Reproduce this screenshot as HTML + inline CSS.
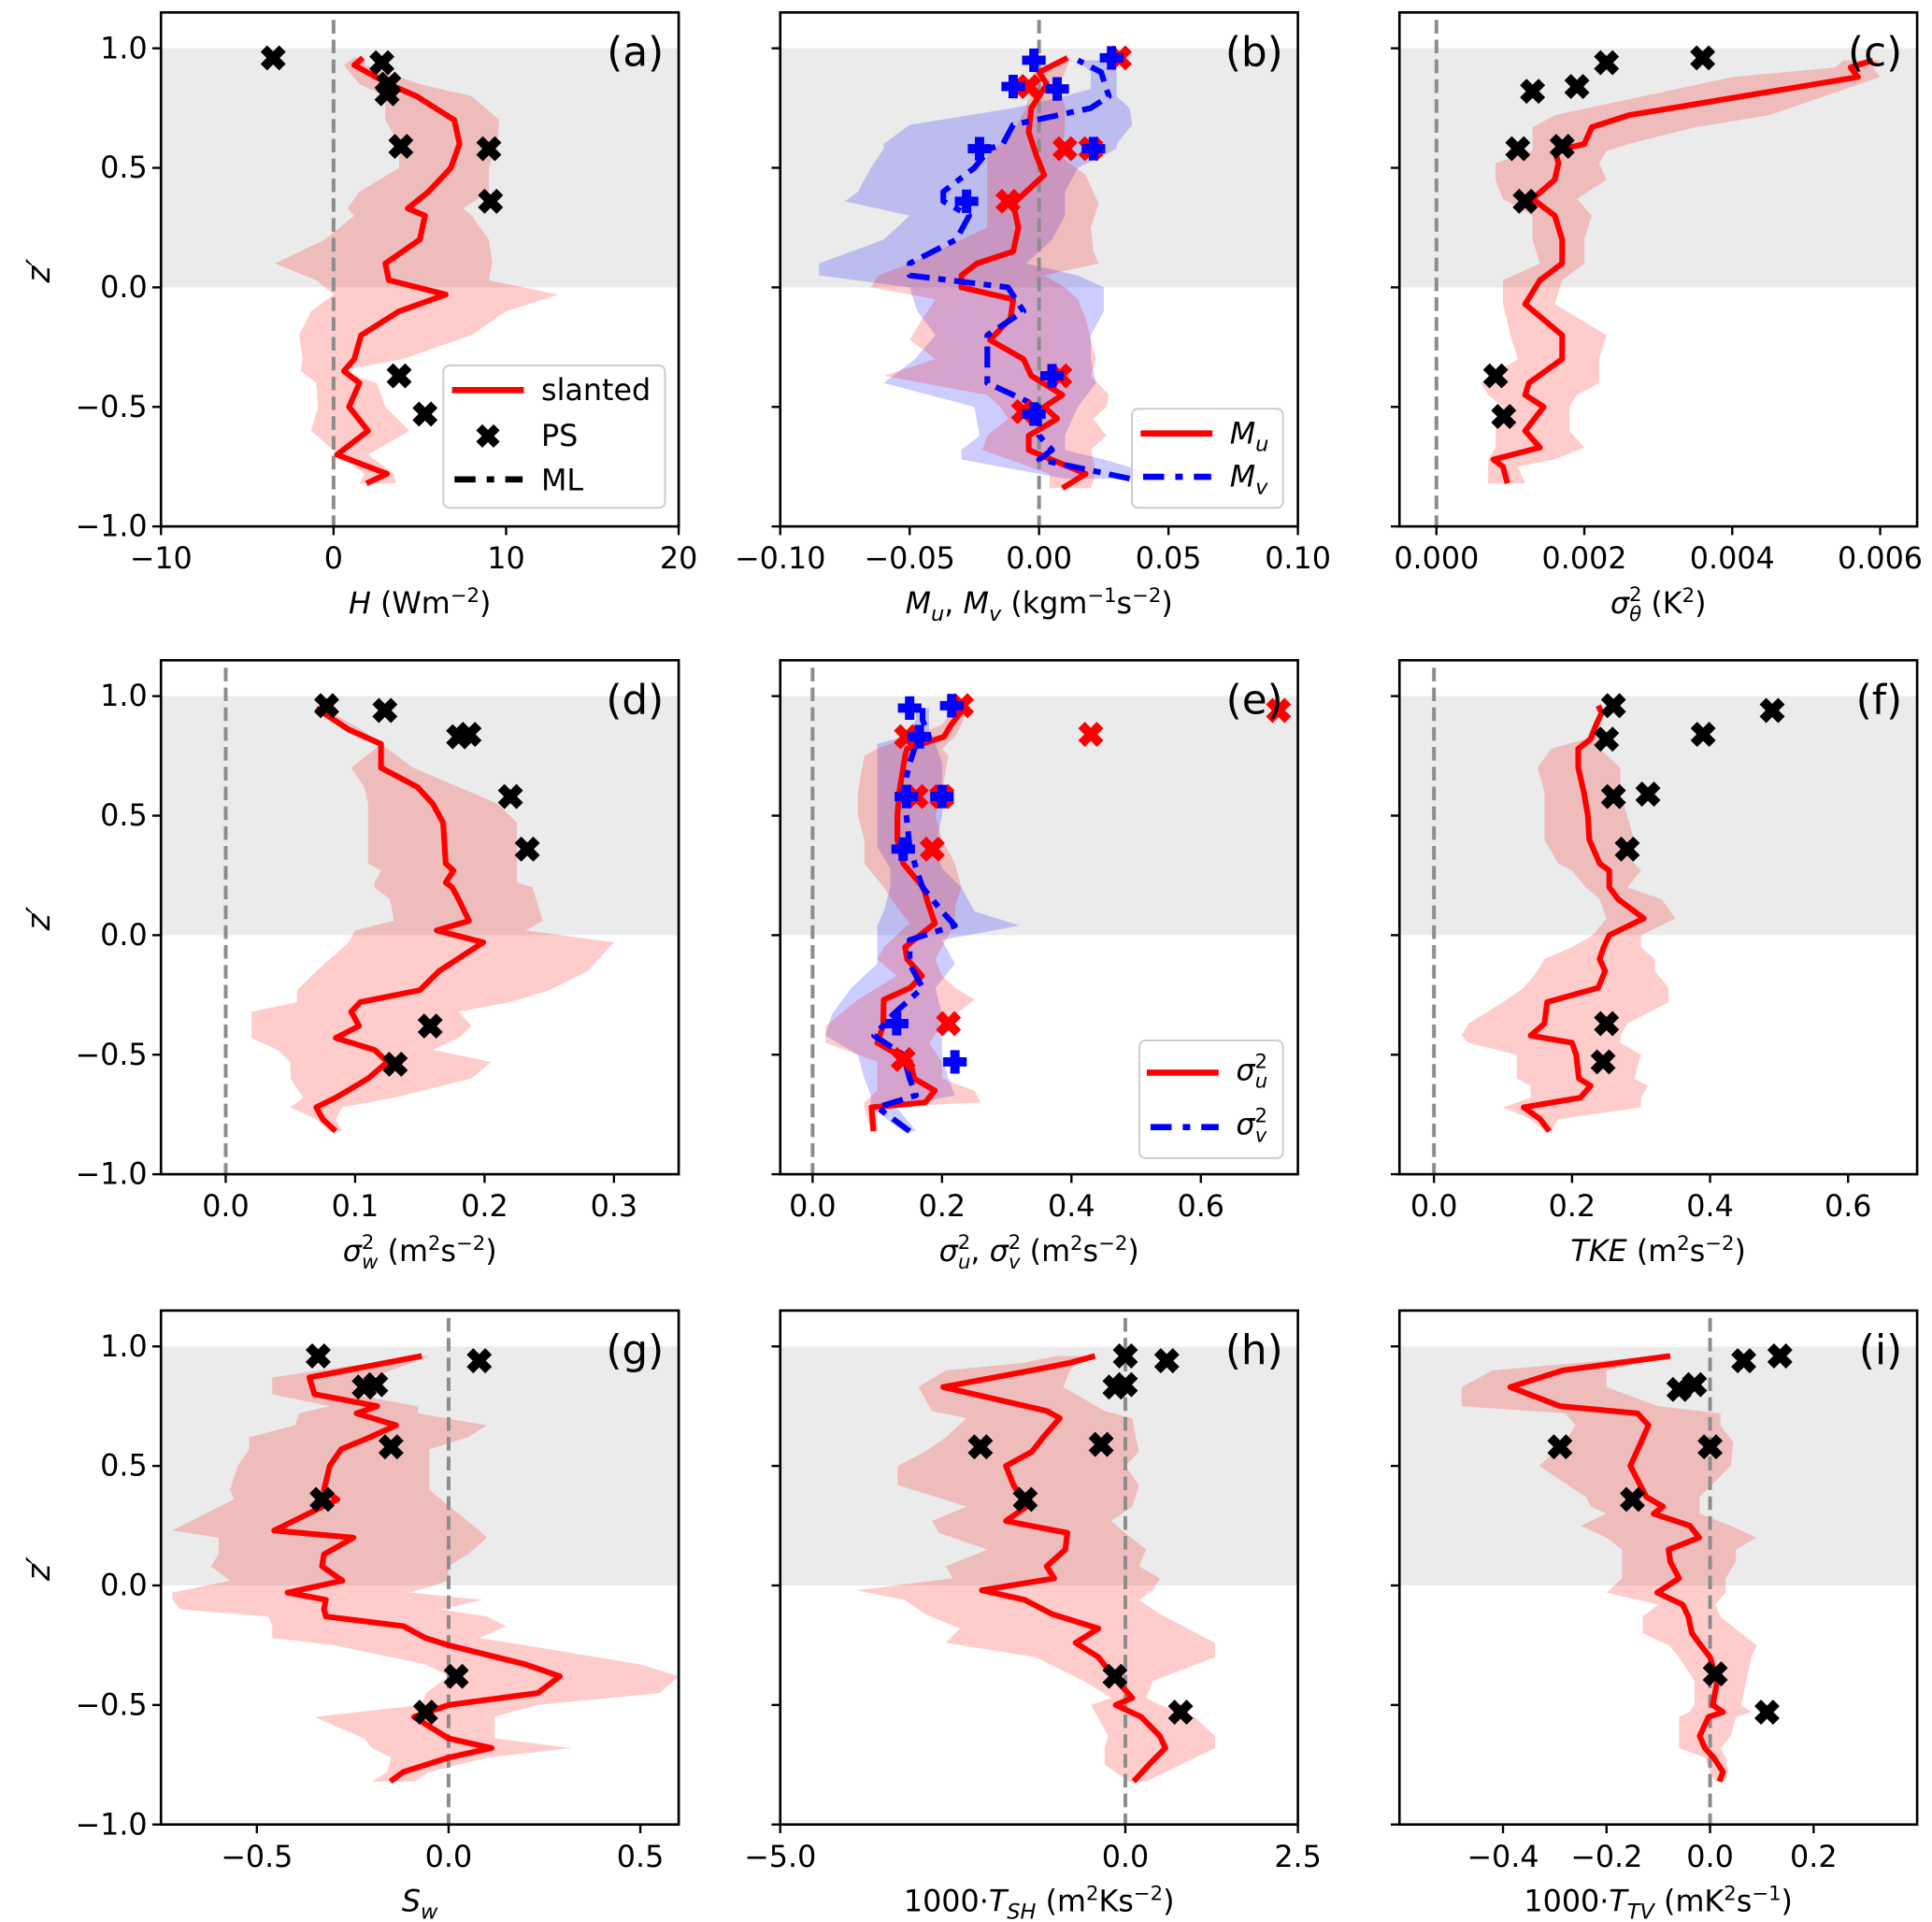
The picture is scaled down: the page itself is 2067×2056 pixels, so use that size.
<!DOCTYPE html>
<html><head><meta charset="utf-8">
<style>
html,body{margin:0;padding:0;background:#fff;}
svg{display:block;font-family:"DejaVu Sans","Liberation Sans",sans-serif;}
</style></head>
<body>
<svg id="fig" width="2067" height="2056" viewBox="0 0 1560 1551.7" preserveAspectRatio="none" xmlns="http://www.w3.org/2000/svg"></svg>
<script>
// ---------- data ----------
const zA=[-0.82,-0.78,-0.7,-0.6,-0.5,-0.4,-0.35,-0.3,-0.2,-0.1,-0.03,0.03,0.1,0.2,0.3,0.33,0.4,0.5,0.6,0.7,0.8,0.85,0.93,0.96];
const mA=[1.9,3.1,0.2,2.0,0.9,1.5,0.6,1.2,1.6,3.8,6.5,3.2,3.0,5.0,5.3,4.3,5.5,6.8,7.3,7.0,4.8,3.2,1.2,1.7];
const loA=[1.5,1.8,0.3,-1.3,-0.9,-1.0,-1.9,-1.8,-2.0,-1.3,0.0,-1.0,-3.4,-0.5,1.2,0.8,1.5,3.8,3.8,3.0,3.0,1.5,0.6,1.2];
const hiA=[3.6,3.5,2.0,4.4,3.0,2.5,0.3,4.0,8.0,10.0,13.0,9.0,9.2,9.0,8.0,7.5,9.0,9.0,9.5,9.6,8.0,5.0,1.8,1.8];
const psAx=[-3.5,2.8,3.2,3.1,3.9,9.0,9.1,3.8,5.3];
const psAz=[0.96,0.94,0.85,0.81,0.59,0.58,0.36,-0.37,-0.53];

const zBu=[-0.84,-0.78,-0.68,-0.62,-0.55,-0.5,-0.45,-0.37,-0.3,-0.22,-0.13,-0.05,0.0,0.05,0.1,0.15,0.25,0.35,0.47,0.55,0.65,0.75,0.85,0.9,0.96];
const mBu=[0.009,0.018,-0.004,-0.004,0.007,0.002,0.009,-0.003,-0.006,-0.019,-0.011,-0.01,-0.03,-0.03,-0.024,-0.01,-0.008,-0.01,0.002,-0.001,-0.004,-0.003,0.003,0.0,0.011];
const loBu=[0.004,0.004,-0.022,-0.02,-0.012,-0.015,-0.02,-0.06,-0.04,-0.05,-0.045,-0.04,-0.065,-0.062,-0.05,-0.04,-0.02,-0.02,-0.02,-0.02,-0.01,-0.005,-0.003,-0.002,0.01];
const hiBu=[0.02,0.022,0.02,0.026,0.021,0.026,0.027,0.02,0.022,0.02,0.018,0.015,0.01,0.002,0.023,0.021,0.02,0.023,0.018,0.008,0.01,0.01,0.008,0.01,0.012];
const zBv=[-0.8,-0.72,-0.68,-0.62,-0.5,-0.4,-0.3,-0.2,-0.1,0.0,0.05,0.1,0.2,0.3,0.36,0.4,0.5,0.58,0.6,0.68,0.75,0.8,0.83,0.9,0.95];
const mBv=[0.035,0.0,0.005,0.0,0.0,-0.02,-0.02,-0.02,-0.006,-0.012,-0.05,-0.05,-0.032,-0.027,-0.037,-0.037,-0.025,-0.019,-0.014,-0.01,0.02,0.027,0.026,0.024,0.015];
const loBv=[0.01,-0.03,-0.03,-0.023,-0.025,-0.06,-0.048,-0.04,-0.047,-0.05,-0.085,-0.085,-0.06,-0.05,-0.075,-0.07,-0.065,-0.06,-0.06,-0.05,-0.01,0.01,0.02,0.02,0.015];
const hiBv=[0.05,0.025,0.01,0.01,0.015,0.022,0.02,0.02,0.025,0.025,0.015,-0.005,0.005,0.01,0.01,0.01,0.015,0.03,0.03,0.036,0.035,0.03,0.03,0.03,0.028];
const psBux=[0.031,-0.004,0.01,-0.012,0.008,-0.006,0.02];
const psBuz=[0.96,0.84,0.58,0.36,-0.37,-0.52,0.58];
const psBvx=[-0.002,0.028,-0.01,0.007,0.021,-0.023,-0.028,0.005,-0.002];
const psBvz=[0.95,0.96,0.84,0.83,0.58,0.58,0.36,-0.37,-0.53];

const zC=[-0.82,-0.75,-0.72,-0.67,-0.6,-0.5,-0.45,-0.4,-0.3,-0.2,-0.07,0.03,0.1,0.2,0.3,0.37,0.45,0.52,0.57,0.6,0.67,0.72,0.88,0.92,0.95];
const mC=[0.00096,0.0009,0.00077,0.0014,0.0012,0.00145,0.0012,0.00125,0.0017,0.0017,0.0012,0.0014,0.0017,0.0017,0.0016,0.0013,0.0016,0.00165,0.0016,0.002,0.0021,0.0026,0.0057,0.0056,0.0059];
const loC=[0.0007,0.0007,0.0007,0.0008,0.0008,0.0009,0.0007,0.0006,0.0011,0.001,0.0009,0.0009,0.0014,0.0013,0.0013,0.0009,0.0008,0.0008,0.0013,0.0013,0.0013,0.0016,0.004,0.0054,0.0055];
const hiC=[0.0012,0.0011,0.0016,0.002,0.0018,0.0018,0.0019,0.0022,0.0022,0.0023,0.0016,0.0017,0.002,0.002,0.0021,0.0019,0.0023,0.0022,0.0023,0.0026,0.0035,0.0045,0.006,0.0059,0.006];
const psCx=[0.0036,0.0023,0.0019,0.0013,0.0017,0.0011,0.0012,0.0008,0.00091];
const psCz=[0.96,0.94,0.84,0.82,0.59,0.58,0.36,-0.37,-0.54];

const zD=[-0.82,-0.77,-0.72,-0.68,-0.6,-0.53,-0.48,-0.43,-0.38,-0.32,-0.28,-0.23,-0.15,-0.03,0.02,0.06,0.15,0.2,0.22,0.27,0.3,0.47,0.55,0.62,0.7,0.8,0.86,0.95];
const mD=[0.085,0.075,0.07,0.085,0.11,0.125,0.115,0.085,0.103,0.097,0.104,0.15,0.165,0.199,0.163,0.188,0.18,0.175,0.17,0.176,0.17,0.168,0.16,0.148,0.12,0.12,0.095,0.07];
const loD=[0.08,0.07,0.05,0.06,0.05,0.05,0.04,0.02,0.02,0.02,0.055,0.055,0.07,0.095,0.1,0.13,0.127,0.115,0.115,0.12,0.11,0.11,0.11,0.107,0.097,0.12,0.095,0.07];
const hiD=[0.09,0.085,0.09,0.13,0.19,0.205,0.16,0.18,0.19,0.18,0.22,0.25,0.28,0.3,0.232,0.245,0.24,0.237,0.225,0.225,0.225,0.225,0.21,0.18,0.145,0.12,0.105,0.075];
const psDx=[0.078,0.123,0.18,0.188,0.22,0.233,0.158,0.131];
const psDz=[0.96,0.94,0.83,0.84,0.58,0.36,-0.38,-0.54];

const zEu=[-0.82,-0.72,-0.7,-0.65,-0.6,-0.53,-0.45,-0.38,-0.27,-0.22,-0.17,-0.1,-0.05,0.05,0.12,0.2,0.3,0.4,0.5,0.6,0.75,0.78,0.83,0.88,0.95];
const mEu=[0.094,0.091,0.174,0.189,0.157,0.151,0.1,0.109,0.11,0.151,0.169,0.146,0.143,0.189,0.18,0.171,0.14,0.131,0.131,0.134,0.143,0.146,0.203,0.214,0.234];
const loEu=[0.09,0.08,0.08,0.1,0.1,0.1,0.02,0.02,0.07,0.1,0.13,0.1,0.11,0.15,0.13,0.11,0.08,0.08,0.07,0.07,0.08,0.1,0.15,0.2,0.22];
const hiEu=[0.1,0.1,0.26,0.25,0.2,0.2,0.18,0.2,0.25,0.22,0.2,0.19,0.2,0.22,0.22,0.23,0.22,0.2,0.19,0.2,0.21,0.2,0.22,0.23,0.24];
const zEv=[-0.82,-0.72,-0.67,-0.6,-0.5,-0.42,-0.33,-0.22,-0.12,-0.02,0.04,0.1,0.2,0.28,0.37,0.5,0.6,0.72,0.8,0.83,0.9,0.95];
const mEv=[0.15,0.1,0.16,0.15,0.14,0.095,0.125,0.17,0.15,0.15,0.22,0.2,0.17,0.16,0.15,0.145,0.14,0.15,0.16,0.18,0.17,0.17];
const loEv=[0.14,0.09,0.09,0.08,0.07,0.02,0.03,0.06,0.1,0.1,0.1,0.11,0.12,0.12,0.1,0.1,0.1,0.1,0.1,0.14,0.16,0.16];
const hiEv=[0.16,0.13,0.22,0.21,0.2,0.2,0.2,0.19,0.22,0.2,0.32,0.25,0.23,0.2,0.19,0.2,0.2,0.2,0.19,0.18,0.18,0.18];
const psEux=[0.72,0.43,0.23,0.16,0.185,0.21,0.14,0.2,0.145];
const psEuz=[0.94,0.84,0.96,0.58,0.36,-0.37,-0.52,0.58,0.83];
const psEvx=[0.15,0.215,0.165,0.145,0.2,0.14,0.13,0.22];
const psEvz=[0.95,0.96,0.83,0.58,0.58,0.36,-0.37,-0.53];

const zF=[-0.82,-0.77,-0.72,-0.68,-0.63,-0.6,-0.5,-0.45,-0.42,-0.37,-0.28,-0.22,-0.15,-0.1,-0.05,0.0,0.07,0.15,0.2,0.27,0.3,0.4,0.5,0.6,0.7,0.78,0.82,0.88,0.93,0.96];
const mF=[0.167,0.154,0.13,0.212,0.227,0.21,0.206,0.2,0.14,0.16,0.164,0.238,0.248,0.24,0.246,0.254,0.304,0.267,0.254,0.254,0.24,0.225,0.223,0.217,0.209,0.209,0.227,0.235,0.243,0.238];
const loF=[0.16,0.14,0.1,0.14,0.14,0.12,0.12,0.05,0.04,0.05,0.1,0.13,0.15,0.16,0.2,0.23,0.25,0.24,0.22,0.2,0.18,0.16,0.16,0.16,0.15,0.17,0.22,0.23,0.24,0.24];
const hiF=[0.17,0.18,0.3,0.3,0.31,0.29,0.3,0.27,0.27,0.28,0.34,0.34,0.32,0.32,0.3,0.3,0.35,0.33,0.28,0.3,0.29,0.29,0.28,0.27,0.27,0.24,0.24,0.24,0.245,0.24];
const psFx=[0.26,0.49,0.39,0.25,0.26,0.31,0.28,0.25,0.245];
const psFz=[0.96,0.94,0.84,0.82,0.58,0.59,0.36,-0.37,-0.53];

const zG=[-0.82,-0.78,-0.72,-0.68,-0.64,-0.55,-0.5,-0.45,-0.38,-0.33,-0.25,-0.22,-0.17,-0.13,-0.1,-0.06,-0.03,0.02,0.08,0.13,0.2,0.23,0.36,0.4,0.5,0.57,0.62,0.67,0.72,0.75,0.8,0.87,0.96];
const mG=[-0.152,-0.118,0.0,0.112,0.0,-0.09,0.0,0.233,0.29,0.2,0.0,-0.06,-0.118,-0.32,-0.325,-0.32,-0.42,-0.277,-0.33,-0.325,-0.248,-0.455,-0.29,-0.325,-0.31,-0.28,-0.205,-0.137,-0.24,-0.186,-0.35,-0.363,-0.07];
const loG=[-0.2,-0.16,-0.15,-0.2,-0.22,-0.35,-0.07,-0.06,0.0,-0.06,-0.3,-0.46,-0.46,-0.47,-0.7,-0.72,-0.72,-0.57,-0.62,-0.6,-0.6,-0.72,-0.56,-0.57,-0.55,-0.52,-0.52,-0.4,-0.39,-0.31,-0.46,-0.46,-0.08];
const hiG=[-0.09,-0.05,0.1,0.32,0.12,0.12,0.23,0.55,0.6,0.5,0.2,0.08,0.15,0.1,-0.02,0.09,-0.1,0.0,0.0,0.05,0.1,0.08,-0.02,-0.05,-0.05,-0.05,0.05,0.1,-0.08,-0.08,-0.25,-0.2,-0.05];
const psGx=[-0.34,0.08,-0.22,-0.19,-0.15,-0.33,0.02,-0.06];
const psGz=[0.96,0.94,0.83,0.84,0.58,0.36,-0.38,-0.53];

const zH=[-0.82,-0.75,-0.68,-0.63,-0.55,-0.5,-0.47,-0.4,-0.3,-0.24,-0.18,-0.12,-0.06,-0.02,0.03,0.08,0.15,0.22,0.27,0.33,0.42,0.5,0.56,0.62,0.7,0.73,0.83,0.9,0.93,0.96];
const mH=[0.12,0.34,0.58,0.5,0.23,-0.14,0.1,-0.12,-0.39,-0.72,-0.39,-1.06,-1.46,-2.08,-1.03,-1.14,-0.87,-0.84,-1.73,-1.43,-1.62,-1.73,-1.35,-1.19,-0.95,-1.14,-2.64,-1.35,-0.82,-0.44];
const loH=[0.05,-0.3,-0.3,-0.25,-0.4,-0.5,-0.2,-0.6,-1.3,-2.6,-2.4,-2.9,-3.2,-3.9,-2.5,-2.6,-2.0,-2.7,-2.8,-2.3,-3.3,-3.3,-2.9,-2.6,-2.3,-2.8,-3.0,-2.6,-1.5,-1.0];
const hiH=[0.3,0.8,1.3,1.3,1.0,0.5,0.3,0.4,1.3,1.3,0.9,0.5,0.2,0.4,0.5,0.2,0.3,0.0,-0.2,0.1,0.2,0.0,0.2,0.15,0.1,-0.3,-0.9,-0.8,-0.7,-0.5];
const psHx=[0.0,0.6,-0.15,0.0,-2.1,-0.35,-1.45,-0.15,0.8];
const psHz=[0.96,0.94,0.83,0.84,0.58,0.59,0.36,-0.38,-0.53];

const zI=[-0.82,-0.78,-0.72,-0.68,-0.63,-0.55,-0.53,-0.5,-0.4,-0.3,-0.25,-0.2,-0.13,-0.08,-0.03,0.03,0.1,0.15,0.2,0.25,0.3,0.33,0.37,0.5,0.6,0.67,0.72,0.75,0.83,0.9,0.96];
const mI=[0.018,0.025,0.007,-0.01,-0.02,-0.003,0.025,0.005,0.014,0.0,-0.018,-0.035,-0.042,-0.053,-0.102,-0.06,-0.077,-0.08,-0.021,-0.039,-0.109,-0.091,-0.123,-0.154,-0.133,-0.119,-0.14,-0.29,-0.386,-0.284,-0.077];
const loI=[0.01,0.0,-0.01,-0.06,-0.06,-0.06,-0.04,-0.03,-0.03,-0.06,-0.08,-0.13,-0.13,-0.1,-0.2,-0.17,-0.17,-0.17,-0.2,-0.25,-0.2,-0.23,-0.24,-0.33,-0.28,-0.26,-0.28,-0.48,-0.48,-0.42,-0.1];
const hiI=[0.03,0.035,0.03,0.02,0.04,0.05,0.08,0.06,0.07,0.08,0.09,0.06,0.02,0.01,0.03,0.03,0.05,0.05,0.09,0.04,-0.02,-0.02,-0.02,0.04,0.045,0.02,0.02,-0.1,-0.2,-0.2,-0.07];
const psIx=[0.065,0.135,-0.06,-0.03,-0.29,0.0,-0.15,0.01,0.11];
const psIz=[0.94,0.96,0.82,0.84,0.58,0.58,0.36,-0.37,-0.53];

const yTicks=[1.0,0.5,0.0,-0.5,-1.0];
const yTickLabels=["1.0","0.5","0.0","\u22120.5","\u22121.0"];

// ---------- drawing ----------
const NS="http://www.w3.org/2000/svg";
const svg=document.getElementById('fig');
function mk(tag,attrs,parent){const e=document.createElementNS(NS,tag);for(const k in attrs)e.setAttribute(k,attrs[k]);(parent||svg).appendChild(e);return e;}
const RED="#ff0000",BLUE="#0000ff";
const colX=[130,630,1130], W=418, rowY0=[425,948,1473], U=193;
const FS=24;

function panel(col,row,xmin,xmax,xt,xtl,name){
  const L=colX[col], y0=rowY0[row], top=y0-2.15*U;
  const g=mk('g',{});
  
  
  const sx=v=>L+(v-xmin)/(xmax-xmin)*W;
  const sy=z=>y0-(z+1)*U;
  const clipId='clip'+col+row;
  const cp=mk('clipPath',{id:clipId},g); mk('rect',{x:L,y:top,width:W,height:y0-top},cp);
  const pl=mk('g',{'clip-path':'url(#'+clipId+')'},g);
  const shade=mk('rect',{x:L,y:sy(1),width:W,height:U,fill:'#ebebeb'},pl);
  
  
  return {g,pl,sx,sy,L,y0,top,xt,xtl,xmin,xmax,col};
}
function band(P,z,lo,hi,color,name){
  const n=Math.min(z.length,lo.length,hi.length);let pts=[];
  for(let i=0;i<n;i++)pts.push(P.sx(hi[i])+','+P.sy(z[i]));
  for(let i=n-1;i>=0;i--)pts.push(P.sx(lo[i])+','+P.sy(z[i]));
  const e=mk('polygon',{points:pts.join(' '),fill:color,'fill-opacity':0.2,stroke:'none'},P.pl);
  
  
}
function zeroLine(P){
  const e=mk('line',{x1:P.sx(0),x2:P.sx(0),y1:P.top+6,y2:P.y0,stroke:'#8c8c8c','stroke-width':3,'stroke-dasharray':'11,5'},P.pl);
  
  
}
function line(P,z,v,color,dash,name){
  const n=Math.min(z.length,v.length);let pts=[];
  for(let i=0;i<n;i++)pts.push(P.sx(v[i])+','+P.sy(z[i]));
  const a={points:pts.join(' '),fill:'none',stroke:color,'stroke-width':4.6,'stroke-linejoin':'round'};
  if(dash)a['stroke-dasharray']=dash;
  const e=mk('polyline',a,P.pl);
  
  
}
function xMarks(P,xs,zs,color,name){
  for(let i=0;i<Math.min(xs.length,zs.length);i++){
    const cx=P.sx(xs[i]),cy=P.sy(zs[i]),d=7.5;
    const e=mk('path',{d:`M${cx-d},${cy-d}L${cx+d},${cy+d}M${cx-d},${cy+d}L${cx+d},${cy-d}`,stroke:color,'stroke-width':7.5,'stroke-linecap':'butt',fill:'none'},P.pl);
    
    
  }
}
function plusMarks(P,xs,zs,color,name){
  for(let i=0;i<Math.min(xs.length,zs.length);i++){
    const cx=P.sx(xs[i]),cy=P.sy(zs[i]),d=9.5;
    const e=mk('path',{d:`M${cx-d},${cy}L${cx+d},${cy}M${cx},${cy-d}L${cx},${cy+d}`,stroke:color,'stroke-width':7.5,fill:'none'},P.pl);
    
    
  }
}
function finish(P,label,xlabelHTML){
  const fr=mk('rect',{x:P.L,y:P.top,width:W,height:P.y0-P.top,fill:'none',stroke:'#000','stroke-width':2},P.g);
  
  
  for(let i=0;i<P.xt.length;i++){
    const x=P.sx(P.xt[i]);
    mk('line',{x1:x,x2:x,y1:P.y0,y2:P.y0+7,stroke:'#000','stroke-width':1.8},P.g);
    const t=mk('text',{x:x,y:P.y0+34,'text-anchor':'middle','font-size':FS},P.g);
    t.textContent=P.xtl[i];
    
    
  }
  for(let i=0;i<yTicks.length;i++){
    const y=P.sy(yTicks[i]);
    mk('line',{x1:P.L-7,x2:P.L,y1:y,y2:y,stroke:'#000','stroke-width':1.8},P.g);
    if(P.col===0){
      const t=mk('text',{x:P.L-11,y:y+8,'text-anchor':'end','font-size':FS},P.g);
      t.textContent=yTickLabels[i];
      
      
    }
  }
  const pl=mk('text',{x:P.L+W-12,y:P.top+43,'text-anchor':'end','font-size':33},P.g);
  pl.textContent=label;
  
  
  const xl=mk('text',{x:P.L+W/2,y:P.y0+70,'text-anchor':'middle','font-size':FS},P.g);
  xl.innerHTML=xlabelHTML;
  
  
  if(P.col===0){
    const yl=mk('text',{x:0,y:0,'text-anchor':'middle','font-size':26,'font-style':'italic',transform:`translate(40,${P.sy(0.07)}) rotate(-90)`},P.g);
    yl.textContent="z\u2032";
    
    
  }
}
const sup=s=>`<tspan baseline-shift="9" font-size="16">${s}</tspan>`;
const sub=s=>`<tspan baseline-shift="-6" font-size="17" font-style="italic">${s}</tspan>`;
const it=s=>`<tspan font-style="italic">${s}</tspan>`;
const sig=(s)=>`<tspan font-style="italic">\u03c3</tspan><tspan font-size="16" baseline-shift="10">2</tspan><tspan font-size="16" dx="-10" baseline-shift="-6" font-style="italic">${s}</tspan>`;
const BD="17,7,6,7";

// (a)
let P=panel(0,0,-10,20,[-10,0,10,20],["\u221210","0","10","20"],'panel-a-heat-flux');
band(P,zA,loA,hiA,RED,'slanted-band');zeroLine(P);line(P,zA,mA,RED,null,'slanted-line');xMarks(P,psAx,psAz,'#000','ps-marker');
finish(P,"(a)",it("H")+" (Wm"+sup("\u22122")+")");
{const lg=mk('g',{},P.g);
 mk('rect',{x:358,y:295,width:179,height:115,rx:5,fill:'#fff','fill-opacity':0.85,stroke:'#ccc','stroke-width':1.5},lg);
 mk('line',{x1:365,x2:423,y1:315,y2:315,stroke:RED,'stroke-width':5},lg);
 let t=mk('text',{x:437,y:323,'font-size':FS},lg);t.textContent='slanted';
 mk('path',{d:'M387,345L401,359M387,359L401,345',stroke:'#000','stroke-width':7},lg);
 t=mk('text',{x:437,y:360,'font-size':FS},lg);t.textContent='PS';
 mk('line',{x1:367,x2:422,y1:387,y2:387,stroke:'#000','stroke-width':5,'stroke-dasharray':'17,9,6,9'},lg);
 t=mk('text',{x:437,y:396,'font-size':FS},lg);t.textContent='ML';}

// (b)
P=panel(1,0,-0.1,0.1,[-0.1,-0.05,0,0.05,0.1],["\u22120.10","\u22120.05","0.00","0.05","0.10"],'panel-b-momentum-flux');
band(P,zBv,loBv,hiBv,BLUE,'mv-band');band(P,zBu,loBu,hiBu,RED,'mu-band');zeroLine(P);
line(P,zBu,mBu,RED,null,'mu-line');line(P,zBv,mBv,BLUE,BD,'mv-line');
xMarks(P,psBux,psBuz,RED,'ps-mu-marker');plusMarks(P,psBvx,psBvz,BLUE,'ps-mv-marker');
finish(P,"(b)",it("M")+sub("u")+", "+it("M")+sub("v")+" (kgm"+sup("\u22121")+"s"+sup("\u22122")+")");
{const lg=mk('g',{},P.g);
 mk('rect',{x:914,y:330,width:122,height:80,rx:5,fill:'#fff','fill-opacity':0.85,stroke:'#ccc','stroke-width':1.5},lg);
 mk('line',{x1:921,x2:979,y1:350,y2:350,stroke:RED,'stroke-width':5},lg);
 let t=mk('text',{x:993,y:358,'font-size':FS},lg);t.innerHTML=it("M")+sub("u");
 mk('line',{x1:923,x2:978,y1:385,y2:385,stroke:BLUE,'stroke-width':5,'stroke-dasharray':'17,9,6,9'},lg);
 t=mk('text',{x:993,y:393,'font-size':FS},lg);t.innerHTML=it("M")+sub("v");}

// (c)
P=panel(2,0,-0.0005,0.0065,[0,0.002,0.004,0.006],["0.000","0.002","0.004","0.006"],'panel-c-theta-variance');
band(P,zC,loC,hiC,RED,'slanted-band');zeroLine(P);line(P,zC,mC,RED,null,'slanted-line');xMarks(P,psCx,psCz,'#000','ps-marker');
finish(P,"(c)",sig("\u03b8")+" (K"+sup("2")+")");

// (d)
P=panel(0,1,-0.05,0.35,[0,0.1,0.2,0.3],["0.0","0.1","0.2","0.3"],'panel-d-w-variance');
band(P,zD,loD,hiD,RED,'slanted-band');zeroLine(P);line(P,zD,mD,RED,null,'slanted-line');xMarks(P,psDx,psDz,'#000','ps-marker');
finish(P,"(d)",sig("w")+" (m"+sup("2")+"s"+sup("\u22122")+")");

// (e)
P=panel(1,1,-0.05,0.75,[0,0.2,0.4,0.6],["0.0","0.2","0.4","0.6"],'panel-e-horizontal-variance');
band(P,zEv,loEv,hiEv,BLUE,'sv-band');band(P,zEu,loEu,hiEu,RED,'su-band');zeroLine(P);
line(P,zEu,mEu,RED,null,'su-line');line(P,zEv,mEv,BLUE,BD,'sv-line');
xMarks(P,psEux,psEuz,RED,'ps-su-marker');plusMarks(P,psEvx,psEvz,BLUE,'ps-sv-marker');
finish(P,"(e)",sig("u")+", "+sig("v")+" (m"+sup("2")+"s"+sup("\u22122")+")");
{const lg=mk('g',{},P.g);
 mk('rect',{x:920,y:840,width:116,height:95,rx:5,fill:'#fff','fill-opacity':0.85,stroke:'#ccc','stroke-width':1.5},lg);
 mk('line',{x1:926,x2:984,y1:866,y2:866,stroke:RED,'stroke-width':5},lg);
 let t=mk('text',{x:998,y:872,'font-size':FS},lg);t.innerHTML=sig("u");
 mk('line',{x1:929,x2:984,y1:910,y2:910,stroke:BLUE,'stroke-width':5,'stroke-dasharray':'17,9,6,9'},lg);
 t=mk('text',{x:998,y:916,'font-size':FS},lg);t.innerHTML=sig("v");}

// (f)
P=panel(2,1,-0.05,0.7,[0,0.2,0.4,0.6],["0.0","0.2","0.4","0.6"],'panel-f-tke');
band(P,zF,loF,hiF,RED,'slanted-band');zeroLine(P);line(P,zF,mF,RED,null,'slanted-line');xMarks(P,psFx,psFz,'#000','ps-marker');
finish(P,"(f)",it("TKE")+" (m"+sup("2")+"s"+sup("\u22122")+")");

// (g)
P=panel(0,2,-0.75,0.6,[-0.5,0,0.5],["\u22120.5","0.0","0.5"],'panel-g-skewness');
band(P,zG,loG,hiG,RED,'slanted-band');zeroLine(P);line(P,zG,mG,RED,null,'slanted-line');xMarks(P,psGx,psGz,'#000','ps-marker');
finish(P,"(g)",it("S")+sub("w"));

// (h)
P=panel(1,2,-5,2.5,[-5,0,2.5],["\u22125.0","0.0","2.5"],'panel-h-tsh');
band(P,zH,loH,hiH,RED,'slanted-band');zeroLine(P);line(P,zH,mH,RED,null,'slanted-line');xMarks(P,psHx,psHz,'#000','ps-marker');
finish(P,"(h)","1000\u00b7"+it("T")+sub("SH")+" (m"+sup("2")+"Ks"+sup("\u22122")+")");

// (i)
P=panel(2,2,-0.6,0.4,[-0.4,-0.2,0,0.2],["\u22120.4","\u22120.2","0.0","0.2"],'panel-i-ttv');
band(P,zI,loI,hiI,RED,'slanted-band');zeroLine(P);line(P,zI,mI,RED,null,'slanted-line');xMarks(P,psIx,psIz,'#000','ps-marker');
finish(P,"(i)","1000\u00b7"+it("T")+sub("TV")+" (mK"+sup("2")+"s"+sup("\u22121")+")");
</script>
</body></html>
